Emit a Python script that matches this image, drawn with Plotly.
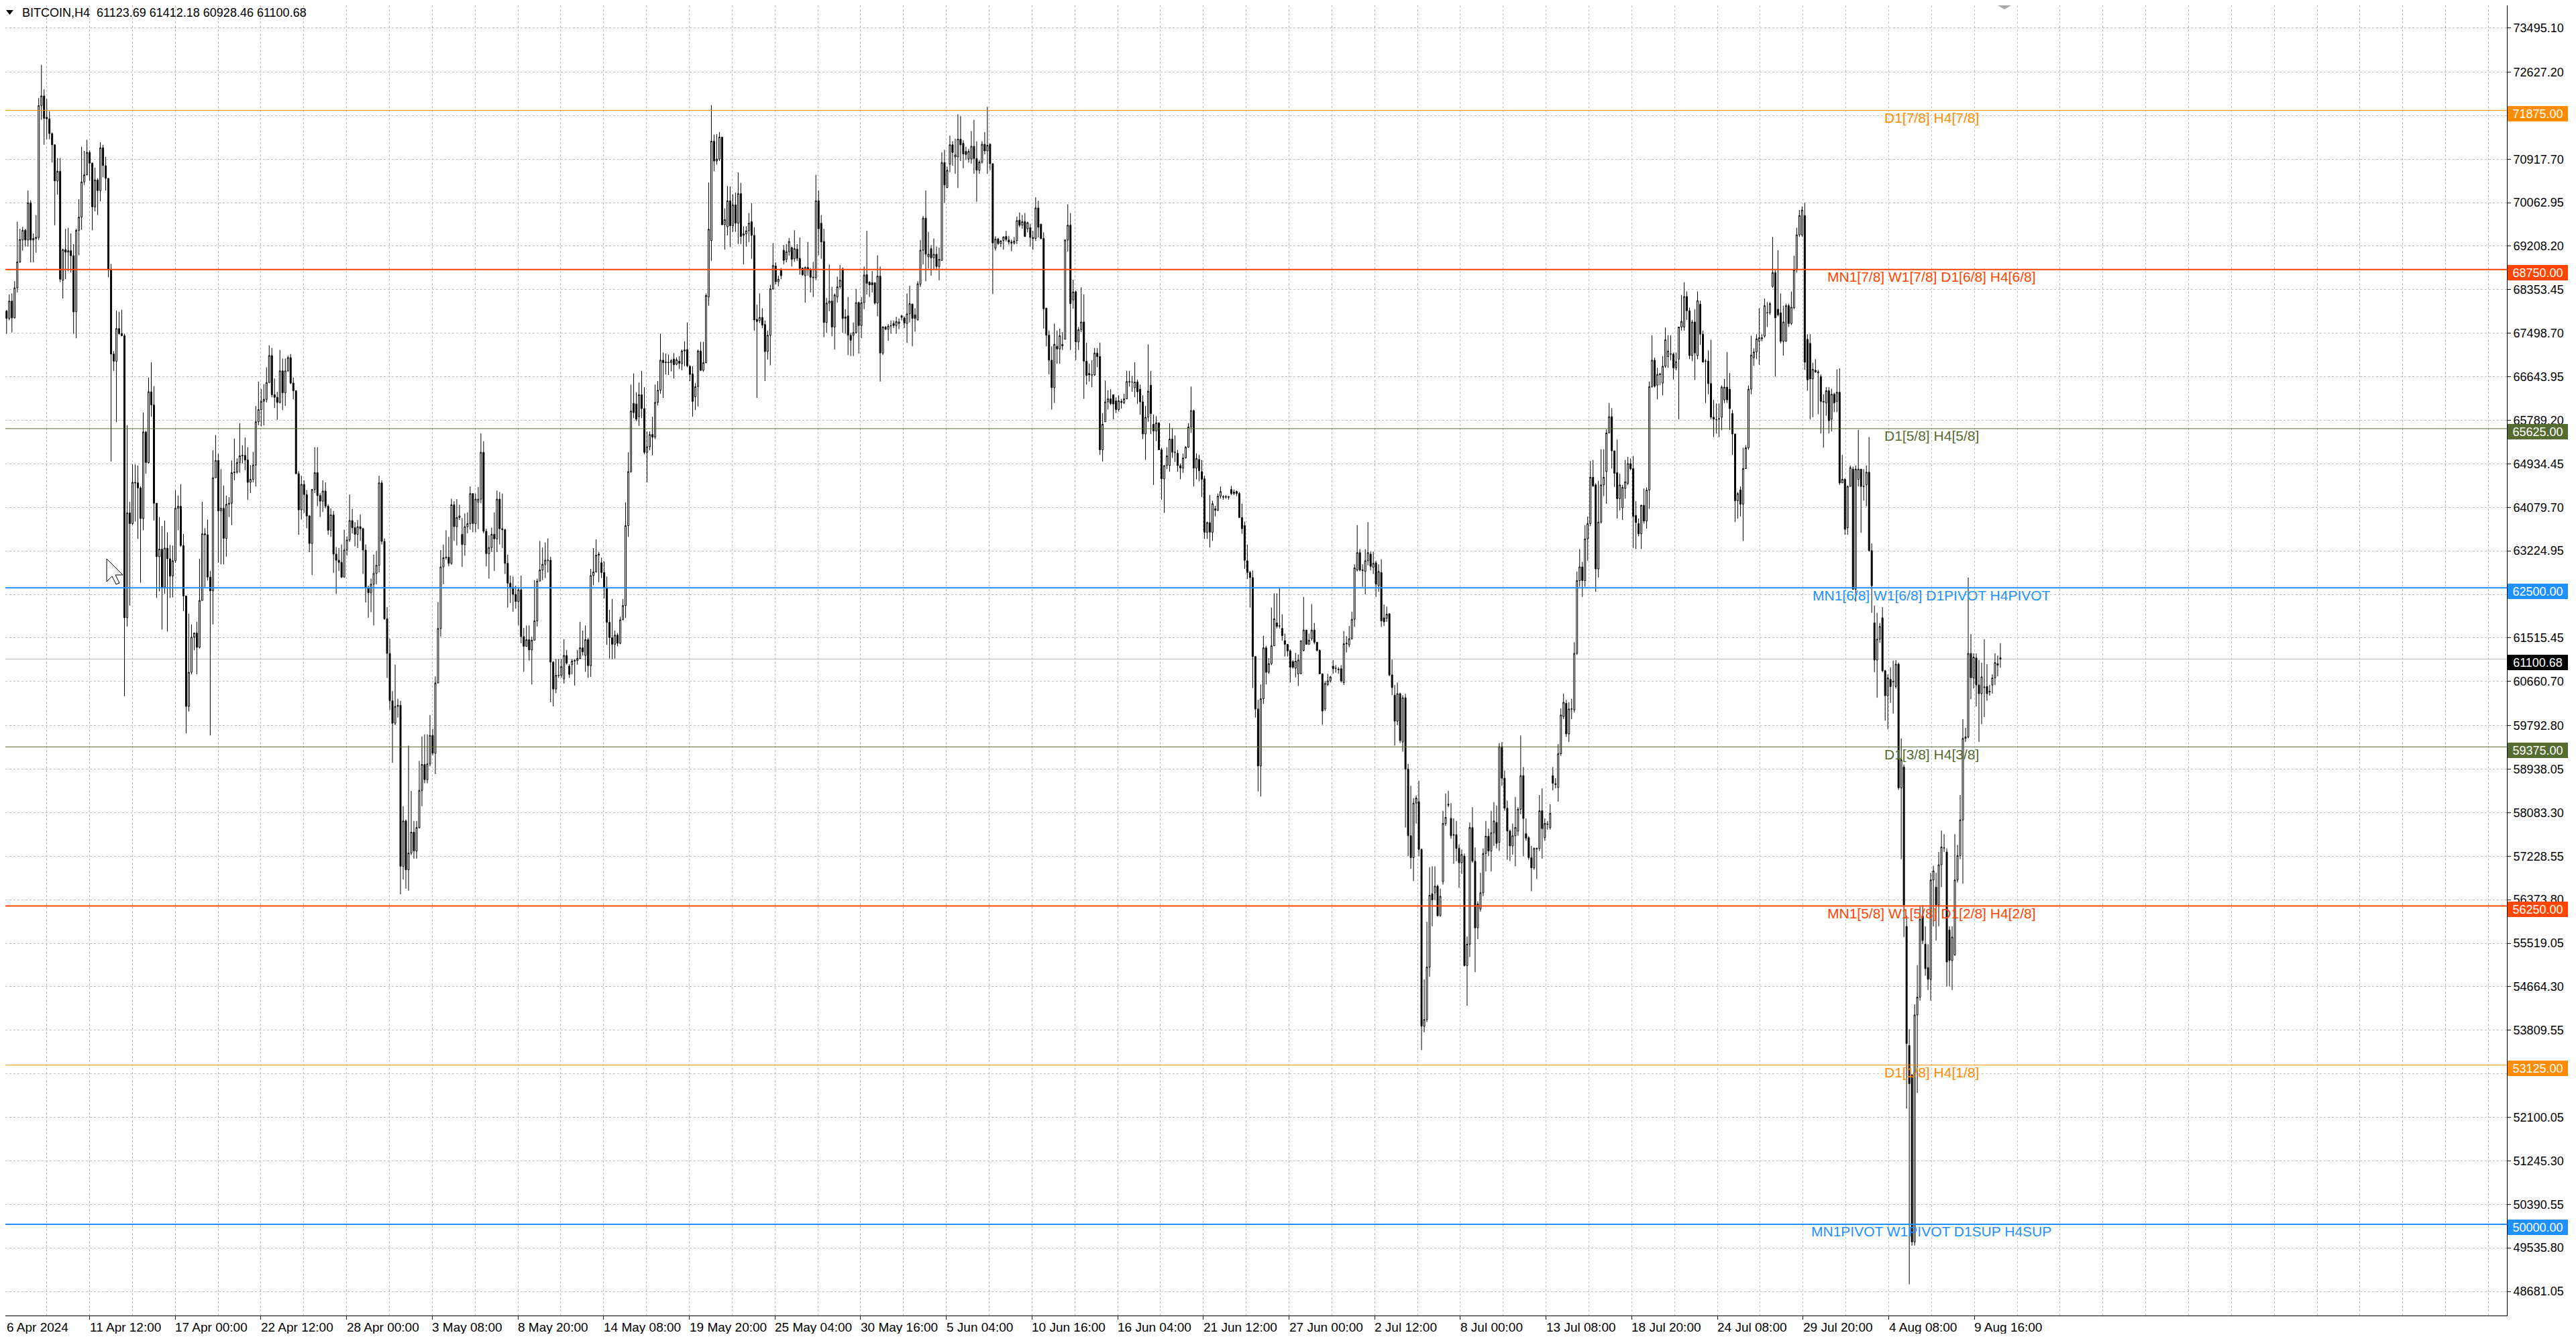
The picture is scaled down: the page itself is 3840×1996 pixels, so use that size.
import numpy as np
import plotly.graph_objects as go

SYMBOL = "BITCOIN,H4"

# H4 bars, 6 Apr 2024 -> 11 Aug 2024
OPEN = [
    # 6 Apr - 26 Apr
    67640, 67935, 67790, 68130, 67800, 68390, 68900, 69330, 69520, 69330,
    70060, 69330, 69360, 69380, 71970, 72160, 71740, 71710, 71420, 71200,
    70490, 70680, 68540, 69140, 69090, 69120, 69020, 67920, 69520, 69780,
    70470, 70610, 71050, 70840, 69980, 70510, 70300, 71140, 70790, 70540,
    68750, 67090, 66950, 67590, 67490, 67450, 61910, 63970, 63760, 64570,
    64560, 64460, 63860, 65560, 64960, 66350, 66090, 64160, 63110, 63260,
    62510, 63280, 63070, 62730, 63030, 64060, 64100, 63330, 62340, 60170,
    60840, 61530, 61610, 61330, 62250, 63560, 63540, 62710, 62440, 64660,
    65000, 64010, 64060, 63470, 64140, 64160, 64760, 64770, 64960, 65090,
    65100, 65010, 64570, 64630, 64910, 65760, 66000, 66160, 66200, 66530,
    67060, 66290, 66240, 66140, 66760, 66330, 66760, 67020, 66520, 66370,
    64740, 64030, 64530, 64330, 63910, 63370, 64430, 64760, 64310, 64200,
    64400, 64100, 63630, 63930,
    # 27 Apr - 17 May
    63160, 63040, 63000, 62710, 63240, 63440, 63820, 63680, 63550, 63700,
    63660, 63240, 62500, 62400, 62570, 62780, 62940, 64560, 63410, 61890,
    61210, 60280, 59840, 60170, 60190, 57030, 57920, 56960, 57290, 57700,
    57330, 57790, 58520, 59030, 58730, 59040, 59600, 59250, 60630, 61700,
    62910, 63090, 63100, 62980, 64130, 63700, 63880, 63550, 63350, 63700,
    63760, 64350, 63760, 64180, 64240, 65160, 63610, 63170, 63290, 63550,
    63460, 64240, 63660, 63640, 62980, 62590, 62510, 62370, 62230, 62460,
    61540, 61350, 61480, 61280, 61470, 61850, 62630, 62850, 62960, 63040,
    63040, 61040, 60510, 60780, 60780, 60710, 61170, 60960, 60990, 61060,
    61070, 61110, 61320, 61170, 61480, 60970, 62740, 62810, 63140, 62990,
    62800, 62500, 61820, 61520, 61390, 61570, 61410, 61870, 62150, 63720,
    64780, 66120, 66110, 65860, 66290, 66020, 65160, 65270, 65510, 65460,
    66140, 66380, 66970, 66920, 66930, 66920,
    # 18 May - 8 Jun
    66990, 66890, 66950, 66900, 67150, 67180, 66850, 66700, 66250, 66450,
    67150, 66770, 66920, 68210, 69320, 71270, 70880, 70920, 71350, 69630,
    69590, 70100, 69610, 70020, 69660, 70240, 69420, 69450, 69510, 69690,
    69420, 67770, 67750, 67810, 67670, 67140, 67460, 68370, 68820, 68510,
    68740, 69130, 68950, 69100, 69180, 68960, 69150, 68970, 68780, 68630,
    68790, 68750, 68600, 68590, 70100, 69660, 69300, 67710, 68090, 68130,
    67620, 68210, 68410, 68760, 67790, 67840, 67460, 67460, 67510, 68100,
    67650, 68100, 68650, 68500, 68490, 68490, 68090, 68620, 67110, 67620,
    67580, 67640, 67690, 67650, 67690, 67840, 67800, 67690, 67880, 68070,
    67860, 67760, 68460, 69130, 69760, 69000, 69160, 68980, 69050, 68810,
    68930, 70850, 70360, 70820, 71200, 70960, 70960, 71310, 71230, 71070,
    70920, 70920, 71170, 70930, 70700, 70860, 71210, 71080, 71210, 70830,
    69170, 69350, 69260, 69320, 69400,
    # 9 Jun - 29 Jun
    69330, 69290, 69270, 69320, 69720, 69620, 69690, 69550, 69570, 69380,
    69360, 69960, 69640, 69360, 67990, 67460, 66970, 66430, 67240, 67190,
    67250, 67380, 69330, 69620, 68150, 68310, 67330, 67570, 67720, 66950,
    66710, 66680, 66680, 67110, 67040, 65210, 65760, 66150, 66210, 66290,
    66170, 66000, 66160, 66130, 66210, 66550, 66540, 66430, 66540, 66400,
    66150, 65520, 65850, 66480, 65710, 65580, 65740, 65210, 64640, 64900,
    64900, 65420, 65160, 65140, 64900, 64850, 65050, 65260, 65660, 65980,
    64850, 65020, 64780, 64640, 63590, 63780, 63590, 64020, 64020, 64300,
    64290, 64280, 64290, 64430, 64350, 64390, 64350, 63880, 63720, 63030,
    62800, 62700, 61150, 60120, 59000, 60320, 61320, 60840, 61010, 61360,
    61810, 61750, 61700, 61460, 61390, 61260, 61050, 60920, 60810, 60810,
    61270, 61670, 61390, 61500, 61670, 61430, 61270, 60810, 60120, 60600,
    60670, 60960, 60920, 60900, 60910,
    # 30 Jun - 20 Jul
    60640, 61400, 61380, 61500, 61880, 62850, 63190, 62850, 62820, 63030,
    63160, 62900, 62990, 62540, 62800, 61910, 61900, 61990, 60790, 60390,
    59880, 60420, 59470, 60340, 58940, 57630, 57200, 58270, 58300, 57360,
    53890, 54020, 55050, 56490, 56510, 56640, 56060, 56730, 57870, 58230,
    57970, 57640, 57650, 57380, 57100, 57230, 55080, 55500, 57790, 57130,
    55820, 56190, 56510, 57280, 57620, 57330, 57690, 57890, 57500, 59380,
    58760, 58170, 57720, 57430, 57630, 57720, 58150, 58810, 57670, 57590,
    57200, 57000, 57380, 57380, 58120, 57590, 57850, 57790, 58810, 58650,
    58580, 59240, 59970, 60230, 59630, 60120, 60100, 61210, 62640, 62910,
    62640, 63460, 63760, 64670, 64520, 62870, 63790, 64520, 64780, 65540,
    65860, 65190, 64760, 64250, 64070, 64450, 64550, 64940, 64840, 63920,
    63760, 63560, 64120, 63810, 64420, 66450, 66970, 66480, 66700, 66520,
    66850, 67040, 67090, 67090, 66820,
    # 21 Jul - 11 Aug
    66990, 67620, 67620, 68220, 67940, 67060, 67720, 67060, 68070, 67480,
    66950, 66950, 66510, 65850, 65800, 65810, 65850, 66190, 66440, 66400,
    65920, 65520, 64210, 64420, 64140, 64840, 65250, 66400, 67020, 67130,
    67340, 67390, 67440, 67900, 67900, 68420, 68690, 67970, 67900, 67340,
    67340, 68040, 67690, 68000, 68740, 69430, 69430, 69810, 67380, 67300,
    66600, 66770, 66720, 66650, 66160, 66130, 66370, 65810, 66300, 66160,
    66340, 64560, 64630, 63680, 64490, 64830, 62470, 64630, 64830, 64490,
    64520, 64770, 63230, 61810, 61080, 61490, 61910, 60870, 60380, 60700,
    60650, 60560, 61000, 58570, 58980, 55850, 53510, 52930, 49650, 54110,
    54460, 56060, 55500, 55040, 54810, 56760, 56620, 56270, 57060, 57390,
    57310, 55780, 55180, 55290, 56760, 57240, 57940, 59540, 59570, 61210,
    60730, 61120, 60590, 60420, 60540, 60560, 60450, 60590, 60730, 61010,
    61123.69,
]

HIGH = [
    68090, 67960, 68260, 68280, 68520, 69690, 69550, 69590, 69550, 70300,
    70110, 69460, 69820, 72120, 72770, 72290, 72100, 71860, 71440, 71200,
    70940, 70940, 69160, 69550, 69570, 69460, 69250, 69550, 70130, 71160,
    71080, 71300, 71090, 70850, 70750, 70540, 71250, 71200, 70960, 70540,
    68860, 67150, 67940, 67920, 67960, 67490, 65690, 64190, 64930, 64920,
    64900, 64490, 65940, 65580, 66630, 66930, 66460, 64160, 63890, 63710,
    63820, 63590, 63340, 63330, 64420, 64310, 64530, 63560, 62340, 61990,
    61780, 61620, 61830, 63070, 64190, 63670, 63840, 62830, 65200, 65500,
    65130, 64830, 64510, 64310, 64280, 65000, 65430, 65040, 65730, 65300,
    65450, 65260, 64910, 65170, 66070, 66550, 66400, 66500, 66830, 67260,
    67210, 66610, 66350, 67170, 67000, 67000, 67060, 67090, 66630, 66370,
    64790, 64700, 64610, 64420, 63930, 64440, 65260, 65260, 64360, 64610,
    64570, 64140, 64060, 64010,
    63300, 63280, 63350, 63640, 63510, 64330, 64050, 63790, 63830, 63940,
    63680, 63350, 62540, 62680, 63150, 63220, 64700, 64610, 63470, 62120,
    61500, 60470, 60990, 60320, 60280, 58210, 57950, 59400, 58510, 57920,
    57920, 59100, 59580, 59620, 59620, 60000, 59730, 60760, 62220, 63240,
    63350, 63630, 63500, 64250, 64200, 64240, 64130, 63870, 63960, 63980,
    64490, 64350, 64350, 64480, 65530, 65380, 63660, 63530, 63680, 63980,
    64410, 64380, 64350, 63660, 63150, 62740, 62720, 62540, 62500, 62740,
    61710, 61760, 61760, 61540, 62650, 62680, 63420, 63290, 63390, 63470,
    63110, 61060, 61100, 61100, 61100, 61490, 61280, 61000, 61100, 61100,
    61280, 61830, 61660, 61760, 61520, 62870, 63280, 63450, 63200, 63090,
    63020, 62720, 62070, 62280, 61660, 61610, 61930, 62280, 64180, 65160,
    66490, 66710, 66340, 66530, 66760, 66440, 65570, 65570, 65860, 66490,
    66560, 67490, 67120, 67100, 67080, 66990,
    67110, 67025, 67050, 67180, 67340, 67710, 66870, 66850, 66520, 67180,
    67330, 67330, 68280, 70460, 71980, 71400, 71410, 71450, 71360, 69950,
    70390, 70380, 70230, 70260, 70660, 70450, 69600, 69600, 69860, 70050,
    69580, 68060, 68280, 67990, 67750, 67550, 68450, 69270, 68890, 68630,
    68780, 69230, 69250, 69370, 69200, 69520, 69250, 69380, 68780, 68810,
    69290, 68780, 68900, 70610, 70300, 69820, 69550, 68190, 68850, 68410,
    68280, 68610, 68840, 68790, 67970, 68210, 67510, 67710, 68370, 68120,
    68210, 68810, 69510, 68520, 68720, 68500, 69030, 68810, 67640, 67640,
    67680, 67750, 67750, 67820, 67790, 67860, 67830, 68280, 68430, 68080,
    67990, 68520, 69330, 69800, 70300, 69490, 69230, 69360, 69200, 69180,
    71050, 71100, 70770, 71380, 71270, 71320, 71800, 71760, 71290, 71160,
    71120, 71470, 71690, 71270, 70900, 71270, 71450, 71945, 71230, 70830,
    69400, 69370, 69330, 69400, 69510,
    69410, 69340, 69390, 69790, 69870, 69820, 69860, 69690, 69650, 69510,
    70170, 70100, 69650, 69480, 68000, 67550, 67240, 67690, 67550, 67590,
    67520, 69340, 70030, 69860, 68550, 68340, 67620, 68400, 68260, 67310,
    66900, 66970, 67210, 67210, 67310, 65930, 66570, 66380, 66400, 66290,
    66240, 66280, 66210, 66310, 66760, 66760, 66660, 66930, 66590, 66490,
    66280, 66070, 67280, 66760, 65900, 65870, 65740, 65250, 64900, 65260,
    65730, 65630, 65490, 65210, 64940, 65140, 65280, 65730, 66450, 66000,
    65140, 65110, 65010, 64700, 63800, 64320, 64210, 64110, 64350, 64490,
    64320, 64320, 64300, 64500, 64430, 64410, 64380, 64150, 63800, 63350,
    62830, 62840, 61150, 60300, 60600, 61560, 61360, 61120, 62110, 62390,
    62390, 62490, 61980, 61600, 61390, 61290, 61080, 61220, 61190, 61460,
    62320, 61670, 61600, 62180, 61810, 61430, 61290, 60810, 60670, 60810,
    60770, 61080, 60980, 60940, 60980,
    61650, 61550, 61750, 62030, 62960, 63730, 63260, 62960, 63260, 63790,
    63210, 63210, 63030, 62960, 63060, 62170, 62130, 61990, 61090, 60590,
    60640, 60440, 60390, 60420, 59040, 58610, 58370, 58420, 58710, 57380,
    54810, 55940, 57010, 57030, 57030, 56670, 56590, 58120, 58460, 58510,
    58270, 57970, 57920, 57460, 57360, 57280, 55650, 57890, 58190, 57400,
    56340, 56900, 57380, 57920, 57770, 58120, 58290, 58220, 59450, 59470,
    58910, 58320, 57750, 57870, 58390, 58190, 59600, 58980, 57970, 57620,
    57430, 57400, 57400, 58430, 58560, 57970, 57920, 58250, 58980, 58760,
    59430, 60130, 60420, 60300, 60250, 60320, 61430, 62820, 63260, 63010,
    63730, 63900, 64990, 65010, 64550, 64600, 65220, 65220, 65610, 66130,
    66030, 65190, 65410, 64740, 64520, 65010, 65070, 65040, 65090, 64200,
    63860, 64130, 64450, 64470, 66550, 67460, 67020, 66820, 66720, 67050,
    67610, 67460, 67460, 67120, 67120,
    67620, 68250, 68500, 68320, 68000, 67760, 67970, 68320, 68140, 67550,
    66990, 67160, 67370, 66190, 66120, 66120, 66470, 66600, 67130, 66720,
    65990, 65530, 64380, 64490, 65250, 65300, 66470, 67450, 67200, 67480,
    67990, 67480, 68180, 68110, 68110, 69390, 68740, 69130, 68280, 68040,
    68080, 68080, 68320, 69020, 69570, 69920, 69990, 70060, 67480, 67480,
    66920, 66990, 66780, 66690, 66300, 66440, 66440, 66410, 66330, 66790,
    66810, 65110, 64650, 64510, 64900, 64880, 64900, 65600, 64830, 64830,
    64900, 65460, 63370, 62150, 62010, 61810, 62120, 60890, 60800, 60940,
    61070, 61080, 61030, 59540, 59030, 56060, 53830, 52950, 54320, 55090,
    56240, 56270, 55850, 55500, 56900, 57040, 56900, 57310, 57730, 57660,
    57380, 55850, 55850, 57660, 57450, 58430, 59920, 59750, 62700, 61590,
    61210, 61210, 61080, 61030, 61490, 61000, 60590, 60800, 61210, 61170,
    61412.18,
]

LOW = [
    67490, 67490, 67750, 67515, 67790, 68300, 68880, 69120, 69200, 69200,
    68890, 68890, 69080, 69330, 71690, 71200, 71310, 71310, 70850, 69620,
    70220, 68500, 68180, 68560, 68720, 68690, 67490, 67400, 69030, 69530,
    70410, 70600, 70490, 69520, 69890, 69820, 70090, 70560, 70300, 68600,
    64980, 66760, 65750, 67470, 67440, 60370, 61740, 62150, 63730, 63800,
    63460, 62600, 63630, 64740, 64940, 65860, 63820, 62300, 62430, 61680,
    62380, 61640, 62300, 62310, 62990, 63630, 63300, 62040, 59640, 60070,
    60800, 61270, 60800, 61310, 62250, 62510, 62640, 59600, 61780, 64660,
    62990, 62960, 62960, 63110, 63890, 63730, 64610, 64740, 64760, 64940,
    64810, 64230, 64360, 64570, 64490, 65690, 65670, 65690, 66140, 66530,
    66240, 66030, 65800, 66120, 65990, 66070, 66740, 66500, 66200, 64740,
    63540, 63840, 63970, 63670, 63200, 62750, 64360, 64100, 63890, 63990,
    64060, 63540, 63500, 62790,
    62380, 62830, 62690, 62700, 63130, 63400, 63570, 63310, 63280, 63420,
    62770, 62210, 61910, 62020, 61760, 62570, 62800, 63350, 61870, 60730,
    60100, 59060, 59800, 59950, 56480, 56770, 56590, 56550, 57250, 57180,
    57180, 57770, 58210, 58660, 58660, 58990, 59210, 58840, 60630, 61540,
    62570, 63050, 62920, 62950, 63420, 63330, 63830, 62910, 63130, 63570,
    63640, 63590, 63590, 63650, 64160, 63570, 62920, 62680, 63200, 62830,
    63200, 63350, 63280, 62770, 62110, 62200, 62030, 62090, 61760, 61410,
    60850, 61340, 61070, 60600, 61470, 61740, 62630, 62650, 62690, 62800,
    60250, 60170, 60430, 60730, 60730, 60620, 60990, 60730, 60800, 60580,
    60990, 61100, 61170, 60850, 60730, 60750, 62550, 62800, 62610, 62690,
    62290, 61380, 61110, 61100, 61110, 61350, 61390, 61870, 61910, 63500,
    64760, 65830, 65770, 65680, 65830, 65120, 64570, 65200, 65100, 65420,
    66080, 66310, 66230, 66690, 66680, 66750,
    66610, 66870, 66800, 66770, 66850, 66830, 66560, 65860, 65990, 66060,
    66760, 66740, 66910, 68040, 68920, 70680, 70810, 70880, 69620, 69140,
    69420, 69190, 69490, 69490, 69250, 69250, 68850, 69200, 69290, 68960,
    67550, 66230, 67700, 67600, 66560, 66980, 66870, 68350, 68460, 68420,
    68560, 68850, 68890, 69020, 68810, 68900, 68920, 68650, 68630, 68100,
    68630, 68300, 68210, 68540, 69030, 68960, 67420, 67510, 67930, 67440,
    67180, 68100, 68370, 67510, 67490, 67070, 67050, 67050, 67490, 67100,
    67400, 67970, 68260, 68210, 68300, 68060, 67830, 66550, 67070, 67560,
    67350, 67490, 67600, 67490, 67580, 67750, 67600, 67310, 67710, 67240,
    67530, 67750, 68410, 68850, 68520, 68770, 68630, 68760, 68740, 68540,
    68920, 70060, 70350, 70660, 70790, 70630, 70350, 70880, 70740, 70900,
    70850, 70830, 70630, 70080, 70630, 70830, 71010, 70630, 70700, 68270,
    69120, 69230, 69190, 69140, 69300,
    69240, 69110, 69240, 69250, 69580, 69550, 69390, 69480, 69200, 69140,
    69310, 69380, 69340, 67590, 67240, 66690, 66000, 66130, 66900, 66900,
    67170, 67380, 69100, 67170, 67980, 66970, 67170, 67520, 66210, 66490,
    66550, 66440, 66660, 66830, 65110, 64980, 65760, 66000, 66090, 65810,
    65930, 65960, 66020, 66110, 66210, 66450, 66350, 66240, 66110, 65900,
    65420, 65010, 65760, 65520, 64520, 65380, 65210, 64230, 63970, 64830,
    64780, 65050, 64970, 64780, 64630, 64760, 65040, 65250, 65540, 64490,
    64630, 64590, 64280, 63460, 63460, 63290, 63420, 63900, 64010, 64250,
    64230, 64250, 64230, 64320, 64320, 64300, 63870, 63560, 62870, 62670,
    62110, 60530, 59950, 58500, 58400, 60220, 60600, 60810, 60980, 61360,
    61700, 61700, 61460, 61150, 61150, 60640, 60910, 60740, 60570, 60810,
    61250, 61390, 61380, 61460, 61390, 61250, 60810, 59810, 60080, 60570,
    60640, 60810, 60830, 60810, 60640,
    60590, 61230, 61330, 61480, 61730, 62820, 62820, 62520, 62370, 62940,
    62840, 62770, 62320, 62420, 61730, 61750, 61830, 60760, 60390, 59400,
    59800, 59450, 59280, 57790, 57230, 56980, 56740, 57870, 57230, 53420,
    53770, 53970, 54860, 55850, 56370, 56040, 56040, 56670, 57820, 58190,
    57570, 57080, 57130, 56610, 56880, 55060, 54290, 55250, 57100, 54950,
    55600, 56140, 56440, 56930, 57230, 56930, 57430, 57380, 57330, 58610,
    58120, 57160, 57130, 57260, 57030, 57630, 58050, 57230, 57530, 57160,
    56540, 56960, 56780, 57330, 57180, 57530, 57750, 57750, 58520, 58560,
    58300, 59200, 59920, 59570, 59470, 59920, 60050, 61180, 62520, 62320,
    62520, 63030, 63710, 64480, 62420, 62700, 63760, 64300, 64150, 65540,
    64840, 64480, 63860, 64020, 63830, 64250, 64520, 64810, 63280, 63260,
    63510, 63260, 63760, 63660, 64050, 66430, 66430, 66200, 66480, 66280,
    66820, 66820, 66970, 66590, 66770,
    65810, 67550, 67550, 67760, 66990, 66950, 66580, 66990, 67270, 66930,
    66130, 66300, 65810, 65460, 65530, 65460, 65600, 66130, 66130, 65600,
    65110, 63790, 63860, 63900, 63420, 64840, 65210, 66300, 66860, 66990,
    66880, 67340, 67410, 67620, 67860, 68390, 66650, 67830, 67300, 67060,
    67340, 67620, 67660, 67970, 68690, 69390, 69390, 66780, 66370, 65810,
    65850, 66720, 65910, 65530, 65250, 65880, 65530, 65570, 65950, 65950,
    64520, 64560, 63540, 63540, 64490, 62470, 62230, 64490, 63580, 64210,
    64100, 63210, 62010, 60840, 60340, 61420, 60840, 59890, 59720, 60240,
    60030, 60520, 58530, 57170, 55640, 52270, 48820, 49580, 49580, 52580,
    54390, 55500, 54880, 54600, 54390, 55850, 55570, 55850, 56620, 57310,
    54670, 54670, 54600, 55270, 56710, 57170, 56690, 59470, 59540, 60310,
    60520, 60170, 59470, 59820, 59960, 60280, 60380, 60420, 60590, 60760,
    60928.46,
]

CLOSE = [
    67935, 67790, 68130, 67800, 68390, 68900, 69340, 69520, 69330, 70060,
    69330, 69360, 69380, 71970, 72160, 71720, 71710, 71420, 71200, 70490,
    70680, 68560, 69140, 69090, 69120, 69020, 67920, 69520, 69780, 70470,
    70610, 71050, 70840, 69980, 70510, 70300, 71140, 70790, 70540, 68750,
    67090, 66950, 67590, 67490, 67450, 61910, 63970, 63760, 64570, 64560,
    64460, 63860, 65560, 64960, 66350, 66090, 64160, 63110, 63260, 62510,
    63280, 63070, 62730, 63030, 64060, 64100, 63330, 62340, 60170, 60840,
    61530, 61610, 61330, 62250, 63560, 63540, 62710, 62440, 64660, 65000,
    64010, 64060, 63470, 64140, 64160, 64760, 64770, 64960, 65090, 65100,
    65010, 64570, 64630, 64910, 65760, 66000, 66160, 66200, 66530, 67060,
    66290, 66240, 66140, 66760, 66330, 66760, 67020, 66520, 66370, 64740,
    64030, 64530, 64330, 63910, 63370, 64430, 64760, 64310, 64200, 64400,
    64100, 63630, 63930, 63160,
    63040, 63000, 62710, 63240, 63440, 63820, 63680, 63550, 63700, 63660,
    63240, 62500, 62400, 62570, 62780, 62940, 64560, 63410, 61890, 61210,
    60280, 59840, 60170, 60190, 57030, 57920, 56960, 57290, 57700, 57330,
    57790, 58520, 59030, 58730, 59040, 59600, 59250, 60630, 61700, 62910,
    63090, 63100, 62980, 64130, 63700, 63880, 63910, 63350, 63700, 63760,
    64350, 63760, 64240, 64240, 65160, 63610, 63170, 63290, 63550, 63460,
    64240, 63660, 63640, 62980, 62590, 62510, 62370, 62230, 62460, 61540,
    61350, 61480, 61280, 61470, 61850, 62630, 62850, 62960, 63040, 63040,
    61040, 60510, 60780, 60780, 60950, 61170, 61020, 60800, 61060, 61070,
    61110, 61320, 61240, 61480, 60970, 62740, 62810, 63140, 63160, 62800,
    62500, 61820, 61520, 61390, 61570, 61410, 61870, 62150, 63720, 64780,
    65970, 65940, 65810, 66290, 66020, 65160, 65270, 65510, 65460, 66140,
    66380, 66970, 66920, 66930, 66920, 66960,
    66880, 66980, 66910, 67150, 67170, 66860, 66690, 66160, 66450, 67150,
    66770, 66920, 68240, 69540, 71270, 70880, 70920, 71350, 69630, 69730,
    70100, 69610, 70020, 69660, 70240, 69400, 69450, 69510, 69660, 69420,
    67760, 67730, 67810, 67660, 67140, 67460, 68370, 68830, 68510, 68560,
    68630, 68930, 69100, 69300, 68950, 69160, 68970, 68770, 68650, 68790,
    68750, 68600, 68590, 70100, 69550, 69290, 67710, 68090, 68130, 67620,
    68250, 68410, 68540, 67790, 67820, 67460, 67360, 67510, 68100, 67650,
    68100, 68640, 68480, 68450, 68450, 68090, 68620, 67110, 67620, 67580,
    67640, 67650, 67650, 67730, 67720, 67810, 67700, 67880, 68080, 67790,
    67790, 68470, 69130, 69760, 69050, 69050, 68980, 69050, 68810, 68950,
    70850, 70410, 70700, 71200, 71050, 71000, 71310, 71200, 71020, 71010,
    71070, 71170, 70930, 70700, 70860, 71210, 71080, 71190, 70830, 69270,
    69350, 69260, 69310, 69390, 69340,
    69290, 69270, 69310, 69710, 69620, 69690, 69400, 69670, 69380, 69360,
    69960, 69580, 69360, 67980, 67460, 66970, 66430, 67280, 67190, 67450,
    67280, 69330, 69620, 68080, 68310, 67330, 67570, 67720, 66950, 66670,
    66680, 66680, 67110, 67040, 65210, 65710, 66150, 66210, 66120, 66110,
    66000, 66170, 66140, 66210, 66550, 66540, 66540, 66540, 66350, 66150,
    65520, 65850, 66360, 65920, 65580, 65740, 65210, 64640, 64900, 65090,
    65420, 65160, 65160, 64900, 64850, 65050, 65260, 65660, 65980, 64850,
    65040, 64800, 64630, 63590, 63780, 63590, 64150, 64050, 64300, 64390,
    64280, 64290, 64280, 64350, 64380, 64350, 63880, 63660, 63040, 62800,
    62700, 61150, 60120, 59000, 60320, 61320, 60840, 61010, 61360, 61890,
    61740, 61750, 61560, 61390, 61260, 60940, 60940, 61060, 61080, 61460,
    61670, 61390, 61470, 61670, 61430, 61270, 60810, 60080, 60620, 60670,
    60750, 60910, 60920, 60890, 60670,
    61400, 61410, 61500, 61880, 62890, 63190, 62850, 62840, 63030, 63190,
    62920, 62980, 62570, 62820, 61850, 61830, 61980, 60790, 60540, 59880,
    60420, 59500, 60340, 58940, 57630, 57200, 58270, 58370, 57360, 53890,
    54020, 55050, 56460, 56370, 56640, 56060, 56440, 57870, 57990, 58250,
    57630, 57650, 57380, 57100, 57260, 55080, 55500, 57790, 57130, 55820,
    56290, 56510, 57280, 57620, 57330, 57690, 57920, 57480, 59380, 58760,
    58170, 57720, 57430, 57630, 57790, 58150, 58810, 57970, 57580, 57200,
    57000, 57380, 57370, 58120, 57770, 57870, 57860, 58070, 58660, 58640,
    59240, 60000, 60250, 59630, 60120, 60120, 61210, 62640, 62910, 62640,
    63460, 63760, 64670, 64500, 62870, 63790, 64520, 64670, 65540, 65860,
    65190, 64750, 64250, 64520, 64470, 64580, 64940, 64840, 63900, 63780,
    63560, 64120, 63810, 64420, 66450, 66970, 66460, 66690, 66690, 66850,
    67370, 67150, 67090, 66820, 66940,
    67620, 67730, 68220, 67940, 67060, 67720, 67110, 68140, 67480, 66930,
    66950, 66510, 65850, 65810, 65800, 65820, 66440, 66440, 66190, 66020,
    65520, 64210, 64350, 64140, 64840, 65250, 66400, 67070, 67130, 67390,
    67410, 67410, 68040, 67900, 68080, 68690, 67800, 67860, 67340, 67720,
    68040, 67690, 68010, 68740, 69430, 69810, 69920, 66930, 66580, 66600,
    66790, 66740, 66740, 66160, 66150, 66370, 65780, 66300, 66130, 66340,
    64560, 64630, 63650, 64490, 64860, 62470, 64830, 64830, 64490, 64490,
    64770, 63230, 62540, 61080, 61490, 61740, 60870, 60380, 60730, 60560,
    60660, 61000, 58570, 59120, 56270, 53550, 52760, 49650, 54110, 54460,
    55990, 55570, 55020, 54810, 56760, 56940, 56270, 57060, 57410, 57390,
    55150, 55180, 55640, 56760, 57240, 57940, 59540, 59570, 61210, 60730,
    61140, 60590, 60420, 60750, 60550, 60420, 60470, 60730, 61030, 60980,
    61100.68,
]

assert len(OPEN) == len(HIGH) == len(LOW) == len(CLOSE)

# time-axis labels, one every 33 bars in the terminal's own bar count
X_TICK_LABELS = [
    "6 Apr 2024", "11 Apr 12:00", "17 Apr 00:00", "22 Apr 12:00", "28 Apr 00:00",
    "3 May 08:00", "8 May 20:00", "14 May 08:00", "19 May 20:00", "25 May 04:00",
    "30 May 16:00", "5 Jun 04:00", "10 Jun 16:00", "16 Jun 04:00", "21 Jun 12:00",
    "27 Jun 00:00", "2 Jul 12:00", "8 Jul 00:00", "13 Jul 08:00", "18 Jul 20:00",
    "24 Jul 08:00", "29 Jul 20:00", "4 Aug 08:00", "9 Aug 16:00",
]

PRICE_TICKS = [
    73495.10, 72627.20, 71772.45, 70917.70, 70062.95, 69208.20, 68353.45,
    67498.70, 66643.95, 65789.20, 64934.45, 64079.70, 63224.95, 62370.20,
    61515.45, 60660.70, 59792.80, 58938.05, 58083.30, 57228.55, 56373.80,
    55519.05, 54664.30, 53809.55, 52954.80, 52100.05, 51245.30, 50390.55,
    49535.80, 48681.05,
]
# these three sit completely under a level tag in the screenshot
HIDDEN_TICKS = [71772.45, 62370.20, 52954.80]

# Murrey-math style levels drawn by the indicator
LEVEL_PRICES = [71875, 68750, 65625, 62500, 59375, 56250, 53125, 50000]
LEVEL_LABELS = [
    "D1[7/8] H4[7/8]",
    "MN1[7/8] W1[7/8] D1[6/8] H4[6/8]",
    "D1[5/8] H4[5/8]",
    "MN1[6/8] W1[6/8] D1PIVOT H4PIVOT",
    "D1[3/8] H4[3/8]",
    "MN1[5/8] W1[5/8] D1[2/8] H4[2/8]",
    "D1[1/8] H4[1/8]",
    "MN1PIVOT W1PIVOT D1SUP H4SUP",
]
LEVEL_COLORS = ["#FF8C00", "#FF4500", "#556B2F", "#1E90FF",
                "#556B2F", "#FF4500", "#FF8C00", "#1E90FF"]
LEVEL_WIDTHS = [1, 2, 1, 2, 1, 2, 1, 2]

BID = CLOSE[-1]

# ---- layout -----------------------------------------------------------------
# the page body keeps its default 8px margin, so the figure is 16px smaller
# than the window and every screen position below is relative to (8, 8)
FONT = "Liberation Sans"
W, H = 3824, 1980
ML, MR, MT, MB = 0, 95, 0, 27
PLOT_W = W - ML - MR
LAST_BAR = 769          # index of the last bar in the terminal's numbering
TICK_EVERY = 33
X_RANGE = [0.57, 964.1]
Y_RANGE = [48207, 73938]
GRID = "#C0C0C0"
LABEL_X = (2871 - ML) / PLOT_W      # centre of the level captions
SHIFT_MARK_X = (2980 - ML) / PLOT_W

n = len(CLOSE)
bar_x = np.arange(n) * LAST_BAR / (n - 1)
tick_x = [TICK_EVERY * k for k in range(len(X_TICK_LABELS))]
grid_x = [TICK_EVERY / 2 * k for k in range(int(X_RANGE[1] // (TICK_EVERY / 2)) + 1)]


def to_paper_x(v):
    # keep the first label inside the figure, it sits on the left border
    return max(0.0, (v - X_RANGE[0]) / (X_RANGE[1] - X_RANGE[0]))


fig = go.Figure()
fig.add_trace(go.Candlestick(
    x=bar_x, open=OPEN, high=HIGH, low=LOW, close=CLOSE,
    increasing=dict(line=dict(color="black", width=1), fillcolor="white"),
    decreasing=dict(line=dict(color="black", width=1), fillcolor="black"),
    whiskerwidth=0, hoverinfo="skip", showlegend=False,
))

shapes = []
annotations = []

# bid line
shapes.append(dict(type="line", xref="paper", x0=0, x1=1, yref="y", y0=BID, y1=BID,
                   line=dict(color="#B4B4B4", width=1), layer="below"))

tag_style = dict(xref="paper", x=1, xshift=1, xanchor="left", yref="y", yanchor="middle",
                 yshift=-5, showarrow=False, borderpad=2, borderwidth=0,
                 width=86, height=19, align="center")

for price, label, color, lw in zip(LEVEL_PRICES, LEVEL_LABELS, LEVEL_COLORS, LEVEL_WIDTHS):
    shapes.append(dict(type="line", xref="paper", x0=0, x1=1, yref="y", y0=price, y1=price,
                       line=dict(color=color, width=lw), layer="above"))
    annotations.append(dict(
        xref="paper", x=LABEL_X, yref="y", y=price, xanchor="center",
        yanchor="middle", yshift=-11, text=label, showarrow=False,
        font=dict(family=FONT, size=21, color=color),
    ))
    annotations.append(dict(tag_style, y=price, text=f"{price:.2f}", bgcolor=color,
                            font=dict(family=FONT, size=18, color="white")))

annotations.append(dict(tag_style, y=BID, text=f"{BID:.2f}", bgcolor="black",
                        font=dict(family=FONT, size=18, color="white")))

# time labels start at their tick, like the terminal draws them
for tx, lab in zip(tick_x, X_TICK_LABELS):
    px = to_paper_x(tx)
    annotations.append(dict(
        xref="paper", x=px, xanchor="left", xshift=-2 if px > 0 else 0,
        yref="paper", y=0, yanchor="middle", yshift=-17, text=lab, showarrow=False,
        font=dict(family=FONT, size=19, color="black"),
    ))

# symbol header
annotations.append(dict(
    xref="paper", x=0, xanchor="left", xshift=23, yref="paper", y=1, yanchor="middle",
    yshift=-11,
    text=f"{SYMBOL}\u00a0\u00a0{OPEN[-1]:.2f} {HIGH[-1]:.2f} {LOW[-1]:.2f} {CLOSE[-1]:.2f}",
    showarrow=False, font=dict(family=FONT, size=18, color="black"),
))
shapes.append(dict(type="path", xref="paper", yref="paper", xsizemode="pixel",
                   ysizemode="pixel", xanchor=0, yanchor=1,
                   path="M 1,-7 L 12,-7 L 6.5,-14 Z", fillcolor="black",
                   line=dict(width=0), layer="above"))

# chart-shift marker at the top border
shapes.append(dict(type="path", xref="paper", yref="paper", xsizemode="pixel",
                   ysizemode="pixel", xanchor=SHIFT_MARK_X, yanchor=1,
                   path="M -10,0 L 10,0 L 0,-6 Z", fillcolor="#A8A8A8",
                   line=dict(width=0), layer="above"))

# mouse pointer left in the screenshot
shapes.append(dict(type="path", xref="x", yref="y", xsizemode="pixel", ysizemode="pixel",
                   xanchor=39.6, yanchor=63068,
                   path="M 0,0 L 0,-34 L 8,-26 L 14,-38 L 19,-36 L 13,-24 L 24,-24 Z",
                   fillcolor="white", line=dict(color="black", width=1), layer="above"))

fig.update_layout(
    width=W, height=H,
    margin=dict(l=ML, r=MR, t=MT, b=MB, pad=0),
    paper_bgcolor="white", plot_bgcolor="white",
    showlegend=False,
    font=dict(family=FONT, size=18, color="black"),
    shapes=shapes, annotations=annotations,
    xaxis=dict(
        range=X_RANGE, rangeslider=dict(visible=False), showgrid=False, zeroline=False,
        tickmode="array", tickvals=tick_x, showticklabels=False,
        ticks="outside", ticklen=5, tickcolor="black", tickwidth=1,
        showline=True, linecolor="black", linewidth=1, mirror=True,
        minor=dict(tickmode="array", tickvals=grid_x, showgrid=True, gridcolor=GRID,
                   griddash="3px,3px", gridwidth=1, ticks=""),
    ),
    yaxis=dict(
        range=Y_RANGE, side="right", zeroline=False,
        tickmode="array", tickvals=PRICE_TICKS,
        ticktext=["" if v in HIDDEN_TICKS else f"{v:.2f}" for v in PRICE_TICKS],
        ticks="outside", ticklen=5, tickcolor="black", tickwidth=1,
        showgrid=True, gridcolor=GRID, griddash="3px,3px", gridwidth=1,
        showline=True, linecolor="black", linewidth=1, mirror=True,
        tickfont=dict(family=FONT, size=18, color="black"),
    ),
)

fig.write_html("out.html")
